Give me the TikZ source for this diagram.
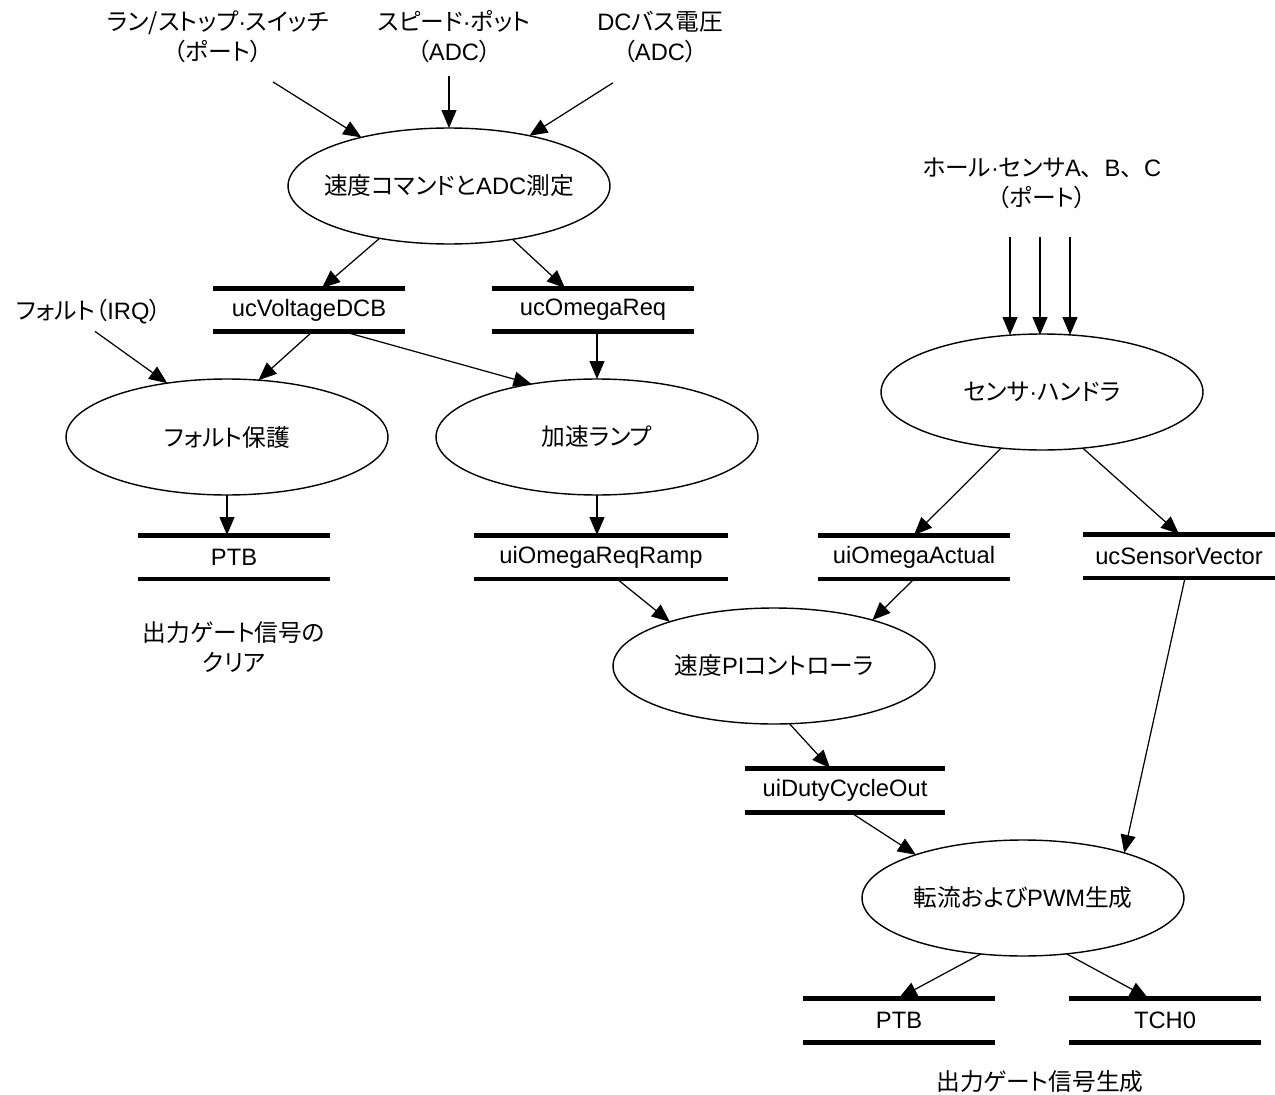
\documentclass[tikz,border=0pt]{standalone}
\usepackage{fontspec}
\setmainfont{Liberation Sans}
\newfontfamily\jp[RawFeature=+palt]{Noto Sans CJK JP}
\newfontfamily\jpw{Noto Sans CJK JP}
\usetikzlibrary{arrows.meta, shapes.geometric, calc}
\tikzset{%
  >={Triangle[width=3mm,length=3.6mm]},
  % Specifications for style of nodes:
  base/.style = {align=center, font=\fontsize{13.5}{17}\selectfont, outer sep=0pt},
  src/.style = {base, inner sep=0pt},
  % text is boxed at zero width so the ellipse keeps its own size
  proc/.style = {font=\fontsize{13.5}{17}\selectfont, outer sep=0pt, draw, ellipse,
                 line width=0.8pt, minimum width=6.44cm, minimum height=2.32cm,
                 execute at begin node={\hbox to 0pt\bgroup\hss},
                 execute at end node={\hss\egroup}},
  storeline/.style = {draw, -, line width=1mm},
  store/.style = {base, inner sep=0pt, minimum height=0.88cm,
    append after command={
      (\tikzlastnode.north west) edge[storeline] (\tikzlastnode.north east)
      (\tikzlastnode.south west) edge[storeline] (\tikzlastnode.south east)}},
  norm/.style = {->, draw, black, line width=0.7pt}
}
\begin{document}
\begin{tikzpicture}[
    x=0.02cm, y=-0.02cm,   % work in pixels of the sketch, y going down
]
  \useasboundingbox (0,0) rectangle (1275,1095);

  % inputs
  \node (runsw) [src] at (218,37) {{\jp ラン/ストップ}·{\jp スイッチ}\\{\jp （ポート）}};
  \node (speed) [src] at (454,37) {{\jp スピード}·{\jp ポット}\\{\jp （}ADC{\jp ）}};
  \node (dcbus) [src] at (660,37) {DC{\jp バス電圧}\\{\jp （}ADC{\jp ）}};
  \node (faultin) [src] at (89,312) {{\jp フォルト（}IRQ{\jp ）}};
  \node (hall) [src] at (1042,183) {{\jp ホール}·{\jp センサ}A{\jpw 、}B{\jpw 、}C\\{\jp （ポート）}};

  % processes
  \node (cmd)    [proc] at (449,186) {{\jp 速度コマンドと}ADC{\jp 測定}};
  \node (fault)  [proc] at (227,437) {{\jp フォルト保護}};
  \node (ramp)   [proc] at (597,437) {{\jp 加速ランプ}};
  \node (sensor) [proc] at (1042,392) {{\jp センサ}·{\jp ハンドラ}};
  \node (pi)     [proc] at (774,666) {{\jp 速度}PI{\jp コントローラ}};
  \node (pwm)    [proc] at (1023,898) {{\jp 転流および}PWM{\jp 生成}};

  % data stores
  \node (vdc)      [store, minimum width=3.84cm] at (309,310) {ucVoltageDCB};
  \node (omegareq) [store, minimum width=4.06cm] at (593,310) {ucOmegaReq};
  \node (ptb1)     [store, minimum width=3.84cm] at (234,557) {PTB};
  \node (rampst)   [store, minimum width=5.08cm] at (601,557) {uiOmegaReqRamp};
  \node (actual)   [store, minimum width=3.84cm] at (914,557) {uiOmegaActual};
  \node (sensvec)  [store, minimum width=3.84cm] at (1179,556) {ucSensorVector};
  \node (duty)     [store, minimum width=4.00cm] at (845,790) {uiDutyCycleOut};
  \node (ptb2)     [store, minimum width=3.84cm] at (899,1020) {PTB};
  \node (tch0)     [store, minimum width=3.84cm] at (1165,1020) {TCH0};

  % notes
  \node (clearnote) [src] at (234,647) {{\jp 出力ゲート信号の}\\{\jp クリア}};
  \node (gennote)   [src] at (1040,1082) {{\jp 出力ゲート信号生成}};

  % flows
  \draw [norm] ($(runsw.south)+(55,19)$) -- (cmd.151);
  \draw [norm] ($(speed.south)+(-5,13)$) -- (cmd.north);
  \draw [norm] ($(dcbus.south)+(-47,20)$) -- (cmd.32);
  \draw [norm] (cmd.217) -- ($(vdc.north)+(13,0)$);
  \draw [norm] (cmd.320) -- ($(omegareq.north)+(-28,0)$);

  \draw [norm] ($(faultin.south)+(6,7)$) -- (fault.138);
  \draw [norm] ($(vdc.south)+(3,0)$) -- (fault.61);
  \draw [norm] ($(vdc.south)+(36,0)$) -- (ramp.141);
  \draw [norm] (ramp.north |- omegareq.south) -- (ramp.north);
  \draw [norm] (fault.south) -- (fault.south |- ptb1.north);
  \draw [norm] (ramp.south) -- (ramp.south |- rampst.north);

  \foreach \dx in {-32,-2,28}
    \draw [norm] ($(hall.south)+(\dx,29)$) -- ($(sensor.north)+(\dx,1)$);
  \draw [norm] (sensor.234) -- (actual.north);
  \draw [norm] (sensor.306) -- (sensvec.north);

  \draw [norm] ($(rampst.south)+(16,0)$) -- (pi.157);
  \draw [norm] (actual.south) -- (pi.25);
  \draw [norm] (pi.285) -- ($(duty.north)+(-15,0)$);
  \draw [norm] ($(duty.south)+(5,0)$) -- (pwm.158);
  \draw [norm] ($(sensvec.south)+(6,0)$) -- (pwm.24);
  \draw [norm] (pwm.233) -- (ptb2.north);
  \draw [norm] (pwm.308) -- ($(tch0.north)+(-17,0)$);
\end{tikzpicture}
\end{document}
